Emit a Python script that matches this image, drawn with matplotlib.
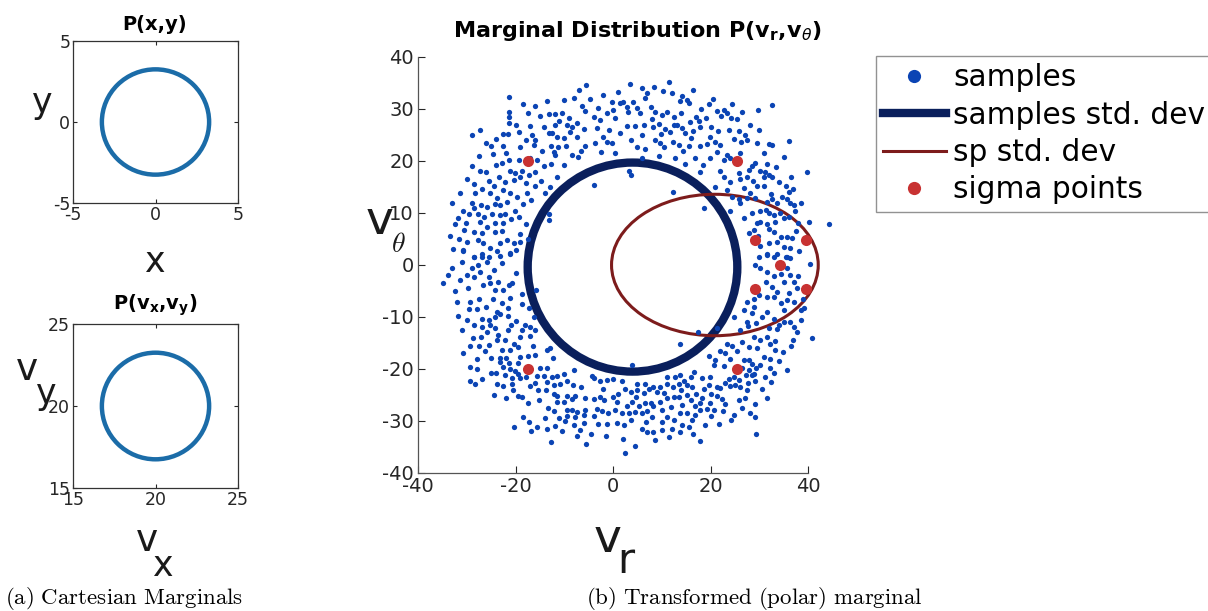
import numpy as np
import matplotlib.pyplot as plt
from matplotlib.patches import Ellipse
from matplotlib.lines import Line2D

plt.rcParams['axes.unicode_minus'] = False

# ---- data ----
# (v_r, v_theta) samples
sample_points = [
    (-5.6, 34.7), (-21.3, 32.4), (-6.9, 33.7), (-7.9, 32.1), (-2.1, 32.7), (-4.8, 31.9), (-0.2, 31.4),
    (1.5, 31.1), (-21.4, 29.5), (-17.5, 29.3), (-15.0, 28.7), (-13.2, 29.0), (-11.9, 29.0),
    (-10.5, 29.3), (-9.0, 28.2), (-11.0, 27.6), (-9.5, 26.9), (-8.4, 26.5), (-7.4, 27.3), (-5.7, 29.7),
    (-4.0, 28.5), (-2.6, 27.9), (-1.2, 29.2), (0.1, 29.8), (0.5, 28.2), (-21.4, 28.4), (-21.4, 27.4),
    (-27.3, 26.0), (-29.0, 25.0), (-22.6, 25.1), (-21.6, 25.1), (-19.2, 25.5), (-17.9, 24.0),
    (-16.6, 25.0), (-15.9, 24.0), (-13.2, 25.3), (-12.5, 25.3), (-11.4, 24.6), (-10.1, 24.4),
    (-8.8, 25.6), (-7.4, 24.7), (-5.7, 22.9), (-3.6, 23.4), (-2.1, 24.7), (-1.2, 23.7), (-0.2, 23.4),
    (1.4, 25.3), (-25.1, 22.9), (-24.7, 21.3), (-22.5, 22.9), (-21.9, 21.5), (-16.3, 23.1),
    (-12.7, 22.9), (-12.2, 21.8), (-11.2, 22.7), (-11.9, 21.2), (-8.4, 21.2), (-7.1, 20.7),
    (-19.2, 20.2), (-15.6, 20.1), (-14.2, 19.0), (-22.8, 19.6), (-21.4, 20.2), (-29.0, 19.0),
    (-20.1, 17.7), (-18.7, 18.0), (-17.3, 17.3), (-15.9, 17.8), (-27.3, 18.1), (-21.1, 18.1),
    (-23.3, 16.9), (-22.1, 16.0), (-20.4, 16.3), (-19.0, 16.9), (-17.8, 15.7), (-16.1, 15.1),
    (-11.5, 17.0), (-4.0, 15.4), (-25.5, 16.2), (-24.4, 15.1), (-31.4, 13.9), (-28.3, 13.8),
    (-25.2, 13.8), (-22.5, 14.4), (-21.1, 13.8), (-19.7, 13.1), (-17.7, 13.8), (-13.9, 13.8),
    (-23.8, 12.8), (-21.8, 12.2), (-25.9, 11.2), (-23.1, 11.5), (-20.1, 10.3), (-30.7, 10.4),
    (-29.6, 9.9), (-27.6, 9.8), (-26.4, 9.3), (-24.9, 9.9), (-23.1, 9.6), (-22.1, 9.9), (-32.4, 7.9),
    (-30.1, 8.1), (-27.3, 8.3), (-25.9, 7.4), (-24.2, 8.0), (-22.5, 8.1), (-30.5, 6.7), (-28.6, 6.4),
    (-26.9, 6.1), (-24.2, 6.4), (-19.0, 5.9), (-13.2, 9.9), (-13.2, 8.7), (-30.0, 4.5), (-27.6, 4.8),
    (-26.6, 4.2), (-25.2, 3.2), (-23.1, 4.2), (-21.8, 4.9), (-20.4, 4.3), (-19.0, 4.5), (-30.7, 2.8),
    (-28.6, 1.6), (-21.1, 2.4), (-26.9, 2.2), (-25.5, 1.6),
    (-18.5, 31.0), (-16.0, 30.5), (-13.5, 31.5), (-10.0, 31.8), (-3.0, 30.2), (-6.3, 30.6),
    (-19.8, 27.0), (-17.0, 26.8), (-14.2, 26.5), (-12.0, 27.0), (-6.0, 26.2), (-3.2, 26.3),
    (-0.8, 26.0), (-24.0, 24.2), (-26.0, 23.5), (-19.0, 22.6), (-14.5, 22.0), (-9.6, 22.8),
    (-6.5, 22.0), (-2.5, 21.8), (0.5, 21.5), (-27.5, 21.0), (-24.0, 19.2), (-17.0, 20.5),
    (-12.8, 19.5), (-10.0, 19.2), (-26.0, 17.8), (-30.0, 16.5), (-28.5, 15.5), (-14.8, 16.2),
    (-13.0, 15.0), (-26.8, 14.6), (-33.0, 12.0), (-29.0, 12.0), (-27.0, 11.5), (-24.2, 11.8),
    (-18.5, 11.8), (-16.8, 12.5), (-31.8, 9.0), (-28.5, 10.9), (-21.0, 8.8), (-19.2, 9.2),
    (-17.8, 7.8), (-33.5, 5.5), (-31.5, 5.0), (-22.8, 6.5), (-17.5, 5.0), (-32.8, 3.0),
    (-23.8, 2.7), (-19.8, 2.9),
    # upper right
    (3.4, 34.9), (11.4, 35.1), (5.9, 34.0), (7.0, 33.1), (10.3, 33.5), (12.1, 33.1), (14.2, 32.5),
    (2.0, 31.4), (4.1, 31.4), (2.9, 30.4), (4.9, 30.1), (5.6, 29.2), (6.6, 32.1), (13.8, 31.6),
    (15.2, 31.7), (15.5, 31.2), (19.6, 31.0), (32.6, 30.8), (29.7, 29.8), (3.0, 29.5), (7.7, 30.4),
    (8.7, 29.5), (10.1, 28.8), (11.1, 29.5), (12.5, 28.4), (14.0, 29.2), (17.1, 28.4), (17.6, 27.6),
    (20.0, 26.6), (21.4, 29.7), (22.7, 29.9), (23.3, 29.3), (24.3, 28.2), (25.5, 28.0), (22.2, 28.7),
    (2.9, 26.7), (4.6, 26.7), (6.3, 26.9), (8.3, 26.5), (9.4, 27.2), (10.7, 26.1), (11.6, 25.6),
    (13.1, 26.9), (14.2, 26.3), (14.8, 25.4), (16.0, 24.4), (17.9, 26.5), (19.8, 24.7), (21.0, 23.7),
    (22.0, 23.1), (23.7, 26.0), (25.8, 25.8), (27.0, 25.0), (27.4, 24.0), (26.3, 23.7), (3.6, 24.0),
    (4.9, 22.6), (6.6, 22.4), (8.7, 24.0), (9.6, 23.4), (10.5, 22.6), (12.3, 23.7), (13.5, 23.1),
    (14.4, 22.0), (15.5, 22.8), (17.9, 22.9), (19.2, 23.3), (19.8, 20.5), (21.4, 21.8), (23.4, 21.2),
    (22.7, 20.1), (24.1, 20.5), (16.9, 20.5), (32.0, 23.3), (32.6, 23.1), (36.1, 23.9), (35.0, 20.7),
    (31.6, 19.4), (29.2, 19.7), (28.5, 19.0), (27.9, 18.3), (3.6, 17.3), (3.2, 18.1), (17.8, 17.8),
    (22.0, 18.0), (22.7, 16.9), (25.8, 17.6), (26.1, 16.5), (27.4, 17.0), (31.1, 17.9), (32.0, 17.3),
    (32.6, 16.9), (30.9, 16.9), (29.6, 15.1), (30.9, 15.1), (35.4, 15.1), (37.0, 14.6), (39.8, 17.9),
    (12.3, 14.1), (18.6, 10.9), (23.4, 14.4), (24.4, 13.1), (25.8, 12.6), (26.1, 11.9), (27.4, 12.8),
    (28.2, 13.8), (29.2, 12.8), (32.4, 13.7), (32.6, 12.6), (33.7, 11.9), (34.7, 13.1), (35.7, 12.6),
    (36.4, 11.9), (37.1, 11.5), (37.4, 10.3), (24.1, 10.3), (30.2, 10.4), (31.3, 10.6), (32.0, 10.0),
    (33.0, 9.6), (34.2, 10.0), (35.0, 9.0), (36.1, 9.3), (40.2, 8.3), (44.3, 7.9), (29.6, 8.1),
    (30.2, 8.3), (31.6, 7.9), (33.3, 8.3), (27.9, 6.1), (28.9, 6.7), (32.0, 6.9), (33.0, 6.4),
    (34.4, 5.4), (35.6, 5.4), (36.7, 5.1), (33.7, 4.5), (32.0, 4.2), (30.2, 3.7), (35.0, 3.4),
    (31.6, 2.2), (33.0, 1.6), (35.7, 1.6),
    (8.5, 34.2), (1.0, 33.2), (16.5, 33.6), (18.0, 30.0), (20.5, 32.0), (24.5, 31.0), (26.5, 29.5),
    (28.0, 27.0), (30.0, 26.0), (8.0, 28.0), (12.5, 27.0), (15.8, 27.5), (19.0, 28.2), (6.0, 25.0),
    (9.8, 25.2), (16.5, 25.8), (21.5, 25.8), (24.8, 24.2), (29.5, 23.5), (31.0, 21.5), (6.0, 20.5),
    (9.5, 21.0), (12.8, 20.5), (14.8, 19.5), (18.5, 19.2), (26.0, 21.5), (30.2, 18.0), (33.5, 18.8),
    (24.0, 16.0), (28.8, 16.2), (34.0, 16.0), (36.5, 17.0), (21.0, 15.0), (26.8, 14.8), (31.5, 12.2),
    (36.0, 14.0), (38.5, 12.0), (28.5, 10.0), (26.8, 9.0), (38.0, 8.0), (37.5, 6.5), (29.8, 5.5),
    (36.3, 3.3), (38.2, 2.6), (30.0, 1.5),
    # lower left
    (-30.7, 2.6), (-28.6, 1.6), (-26.9, 1.6), (-23.1, 1.7), (-21.1, 2.2), (-31.0, 0.6), (-27.6, 0.0),
    (-25.9, 0.6), (-22.8, 0.3), (-33.9, -1.9), (-34.8, -3.5), (-31.4, -2.9), (-30.0, -1.9),
    (-28.6, -2.3), (-27.3, -1.3), (-25.5, -2.3), (-26.6, -3.8), (-25.2, -3.5), (-23.5, -3.2),
    (-21.4, -3.9), (-20.7, -3.5), (-22.5, -4.8), (-24.2, -4.8), (-15.8, -4.8), (-29.3, -7.1),
    (-27.4, -6.6), (-24.7, -6.6), (-22.8, -7.4), (-21.1, -6.4), (-18.7, -7.5), (-17.3, -8.3),
    (-29.6, -8.5), (-23.8, -9.0), (-23.1, -9.4), (-31.8, -9.9), (-26.9, -10.3), (-25.5, -10.5),
    (-21.6, -9.9), (-28.6, -11.5), (-26.9, -11.9), (-25.2, -11.5), (-24.2, -12.2), (-18.7, -12.5),
    (-17.0, -12.0), (-18.0, -11.5), (-15.9, -12.5), (-25.9, -12.8), (-23.5, -13.5), (-21.6, -12.5),
    (-17.0, -13.7), (-28.8, -14.1), (-23.8, -14.4), (-22.1, -14.4), (-29.3, -15.6), (-27.4, -15.6),
    (-25.5, -15.4), (-20.4, -15.1), (-19.4, -15.8), (-22.8, -16.3), (-21.1, -16.3), (-26.2, -16.5),
    (-13.6, -16.3), (-12.9, -16.0), (-27.8, -18.1), (-23.1, -17.8), (-21.9, -17.8), (-23.1, -18.6),
    (-21.4, -18.9), (-19.0, -17.6), (-17.5, -17.5), (-15.9, -17.3), (-19.4, -18.9), (-12.3, -17.8),
    (-29.3, -19.6), (-22.5, -19.6), (-20.1, -20.3), (-14.9, -19.9), (-13.6, -19.9), (-25.1, -20.7),
    (-19.4, -21.0), (-22.1, -21.2), (-20.7, -21.8), (-19.0, -21.8), (-15.6, -21.4), (-14.2, -21.4),
    (-12.5, -21.5), (-11.5, -21.4), (-10.1, -21.0), (-8.1, -20.1), (-29.4, -22.4), (-28.3, -22.9),
    (-23.7, -22.9), (-22.5, -23.3), (-20.7, -22.8), (-17.0, -23.3), (-15.9, -22.6), (-15.3, -24.0),
    (-13.7, -24.0), (-12.2, -23.1), (-10.8, -22.8), (-9.5, -22.4), (-8.2, -23.1), (-4.3, -21.4),
    (-4.0, -21.8), (-2.6, -22.4), (-1.2, -22.1), (0.1, -22.0), (-19.4, -25.2), (-18.7, -25.3),
    (-12.2, -24.8), (-11.5, -25.2), (-9.5, -25.2), (-11.5, -26.3), (-10.1, -26.3), (-7.7, -25.2),
    (-5.7, -25.6), (-4.0, -25.8), (-2.6, -25.3), (-1.9, -26.0), (0.1, -25.3), (0.8, -26.3),
    (-12.2, -28.0), (-9.5, -27.9), (-8.4, -27.8), (-7.4, -28.2), (-5.7, -27.8), (-3.3, -27.6),
    (-2.3, -28.0), (-1.0, -28.5), (0.5, -27.9), (-9.5, -29.0), (-7.7, -29.2), (-6.0, -28.9),
    (-4.0, -29.0), (-9.8, -30.0), (-8.1, -30.8), (-6.0, -30.3), (-3.0, -30.5), (-1.2, -30.6),
    (0.8, -30.3), (-18.5, -29.3), (-17.3, -30.1), (-15.6, -31.1), (-20.3, -31.2), (-16.8, -31.9),
    (-13.6, -31.6), (-7.4, -32.9), (-12.7, -34.0),
    (-33.0, -0.5), (-32.5, -5.0), (-29.8, -4.5), (-27.8, -8.5), (-31.0, -12.5), (-30.0, -10.5),
    (-26.0, -8.0), (-21.5, -8.3), (-19.8, -10.8), (-24.3, -10.0), (-27.0, -13.8), (-30.8, -17.0),
    (-25.0, -17.8), (-28.0, -20.0), (-24.0, -20.8), (-26.8, -22.0), (-21.2, -20.0), (-17.6, -19.9),
    (-17.8, -21.5), (-24.5, -25.0), (-22.0, -25.5), (-20.5, -24.0), (-17.5, -26.5), (-15.2, -26.0),
    (-13.3, -27.5), (-14.0, -29.5), (-11.0, -29.5), (-10.5, -32.0), (-12.0, -31.0), (-6.8, -31.8),
    (-4.5, -32.5), (-1.5, -32.8), (-5.5, -34.5), (-2.0, -23.8), (-6.5, -23.5), (-8.5, -25.8),
    (-13.5, -22.5), (-16.5, -15.5), (-19.0, -13.8), (-21.0, -11.5), (-29.0, -0.5), (-24.5, -1.0),
    (-20.0, -1.5), (-18.6, -5.5), (-32.0, -7.2), (-16.2, -10.0),
    # lower right
    (31.6, 1.9), (33.7, 2.2), (35.4, 1.6), (36.4, 1.3), (29.2, 0.0), (30.2, -0.6), (31.6, -1.3),
    (33.0, -2.2), (34.5, -1.7), (35.7, -0.6), (36.4, -1.9), (37.1, -3.2), (40.5, 0.2), (31.3, -3.2),
    (32.6, -4.2), (33.7, -5.1), (35.0, -3.2), (36.1, -5.3), (37.8, -4.5), (29.9, -5.8), (31.6, -6.1),
    (33.0, -6.2), (34.4, -7.4), (35.7, -6.7), (37.1, -7.1), (38.5, -8.7), (39.1, -8.3), (27.4, -7.1),
    (28.9, -8.0), (26.8, -8.7), (28.5, -9.3), (30.6, -10.0), (31.6, -9.0), (33.1, -10.3), (35.0, -8.7),
    (36.4, -10.9), (37.1, -11.9), (37.8, -12.8), (24.8, -10.0), (27.4, -10.9), (27.6, -11.7),
    (29.4, -11.1), (32.0, -12.2), (33.7, -12.4), (35.0, -10.9), (40.9, -14.1), (37.0, -14.4),
    (17.4, -12.8), (21.3, -12.2), (13.7, -15.2), (28.9, -13.8), (30.2, -14.4), (31.6, -13.9),
    (32.3, -15.1), (33.3, -14.6), (34.9, -16.7), (33.3, -16.4), (23.4, -15.2), (24.4, -15.6),
    (22.0, -16.5), (25.5, -16.5), (26.5, -14.8), (27.9, -15.7), (29.6, -16.0), (30.9, -17.6),
    (32.3, -18.0), (19.6, -17.5), (21.0, -18.3), (22.7, -19.4), (20.7, -19.2), (26.8, -18.3),
    (27.9, -18.3), (28.5, -19.0), (29.4, -19.9), (30.2, -19.2), (27.9, -20.2), (28.9, -21.0),
    (27.2, -21.2), (33.0, -20.7), (35.7, -20.1), (32.3, -19.9), (24.8, -21.5), (23.7, -22.0),
    (25.8, -22.1), (25.1, -23.1), (26.1, -23.4), (24.1, -23.3), (27.7, -22.6), (28.5, -21.2),
    (29.2, -22.4), (31.6, -25.6), (27.5, -24.0), (29.2, -26.7), (28.2, -28.5), (29.2, -29.2),
    (24.8, -28.9), (25.8, -26.0), (24.3, -29.8), (29.4, -32.5), (22.0, -23.7), (21.3, -25.2),
    (22.4, -25.8), (19.6, -23.1), (18.6, -23.9), (18.3, -25.6), (19.8, -26.6), (19.2, -27.6),
    (20.7, -27.9), (20.0, -29.0), (17.9, -26.6), (16.9, -27.1), (17.8, -27.9), (16.9, -28.9),
    (17.8, -33.8), (15.9, -21.6), (16.2, -23.4), (15.2, -23.1), (14.5, -22.4), (15.1, -25.0),
    (13.5, -25.3), (14.2, -27.0), (13.8, -28.5), (15.2, -28.5), (16.2, -29.8), (15.5, -31.1),
    (14.2, -30.8), (12.5, -29.8), (11.1, -29.2), (10.1, -30.1), (11.8, -27.3), (12.5, -25.3),
    (11.1, -25.6), (9.7, -26.3), (10.4, -24.7), (12.3, -23.4), (13.5, -22.8), (9.7, -23.4),
    (8.3, -23.4), (7.3, -23.9), (6.3, -24.7), (4.8, -25.3), (3.6, -24.4), (2.5, -23.9), (4.9, -22.8),
    (6.6, -22.8), (8.3, -27.2), (7.7, -26.6), (6.6, -26.6), (5.3, -27.2), (3.9, -26.3), (2.9, -27.2),
    (1.8, -28.5), (3.2, -28.5), (4.6, -28.2), (5.9, -28.5), (8.0, -29.2), (6.8, -30.1), (3.6, -29.9),
    (2.2, -30.8), (8.3, -32.1), (7.0, -32.2), (10.1, -31.7), (13.8, -32.2), (8.7, -33.7), (2.5, -36.2),
    (11.1, -21.5), (12.8, -21.5), (13.8, -21.2), (16.6, -20.5), (18.3, -21.8), (19.8, -21.6),
    (22.9, -22.6), (21.4, -23.4), (1.8, -22.4), (3.9, -19.2),
    (2.0, -33.5), (4.5, -34.8), (6.0, -31.5), (11.5, -33.0), (12.0, -31.5), (16.5, -32.5),
    (18.8, -30.8), (21.8, -30.5), (22.5, -28.0), (23.0, -26.8), (26.5, -27.5), (27.0, -25.5),
    (30.5, -23.8), (32.5, -22.5), (34.0, -18.5), (31.2, -21.5), (26.5, -19.8), (24.0, -18.0),
    (23.0, -17.0), (36.5, -15.5), (38.5, -10.5), (39.0, -6.5), (38.0, -2.2), (34.0, -11.5),
    (29.0, -6.5), (26.0, -12.5), (16.0, -26.0), (10.0, -27.8), (7.0, -28.0), (5.0, -24.0),
    (1.0, -24.8), (9.0, -24.5), (14.0, -24.0), (17.0, -24.8), (20.0, -24.8), (11.0, -22.8),
]
sigma_vr = [-17.45, 25.46, 29.2, 39.5, 34.2, 29.2, 39.5, -17.45, 25.46]
sigma_vth = [20.06, 20.06, 4.8, 4.8, 0.0, -4.7, -4.7, -20.06, -20.06]

# std. dev ellipses: centre, full width, full height
samples_std = dict(center=(4.0, -0.4), width=43.0, height=40.2)
sp_std = dict(center=(20.9, 0.0), width=42.4, height=27.2)

# cartesian marginals: centre and radius of the 1-sigma circles
xy_center, xy_radius = (0.0, 0.0), 3.25
vxy_center, vxy_radius = (20.0, 20.0), 3.25

c_samples = '#0b44b4'
c_navy = '#0a1f5c'
c_sp = '#7d1c1c'
c_sigma = '#c83232'
c_circ = '#1b6ca8'
c_tick = '#262626'

W, H = 1208, 611
fig = plt.figure(figsize=(W / 100, H / 100), dpi=100)


def fx(px):
    return px / W


def fy(py):
    return 1 - py / H


def small_axes(rect, center, radius, lim, ticks, title, title_y):
    a = fig.add_axes(rect)
    a.add_patch(Ellipse(center, 2 * radius, 2 * radius, fill=False,
                        ec=c_circ, lw=3.2))
    a.set_xlim(lim)
    a.set_ylim(lim)
    a.set_xticks(ticks)
    a.set_yticks(ticks)
    a.tick_params(direction='in', top=True, right=True, length=3,
                  labelsize=12.5, colors=c_tick, pad=2)
    for s in a.spines.values():
        s.set_color('#333333')
        s.set_linewidth(0.9)
    fig.text(fx(155), fy(title_y), title, fontsize=14, fontweight='bold',
             ha='center', va='center')
    return a


ax1 = small_axes([fx(73), fy(203), 165 / W, 162 / H], xy_center, xy_radius,
                 (-5, 5), [-5, 0, 5], 'P(x,y)', 25)
ax2 = small_axes([fx(73), fy(488), 165 / W, 164 / H], vxy_center, vxy_radius,
                 (15, 25), [15, 20, 25], r'P(v$_\mathbf{x}$,v$_\mathbf{y}$)', 305)

fig.text(fx(155), fy(262), 'x', fontsize=25, ha='center', va='center', color='#1a1a1a')
fig.text(fx(42), fy(103), 'y', fontsize=25, ha='center', va='center', color='#1a1a1a')
fig.text(fx(147), fy(541), 'v', fontsize=27, ha='center', va='center', color='#1a1a1a')
fig.text(fx(163), fy(566), 'x', fontsize=25, ha='center', va='center', color='#1a1a1a')
fig.text(fx(27), fy(370), 'v', fontsize=27, ha='center', va='center', color='#1a1a1a')
fig.text(fx(46), fy(394), 'y', fontsize=25, ha='center', va='center', color='#1a1a1a')

# main axes
ax = fig.add_axes([fx(418), fy(473), 390 / W, 416 / H])
pts = np.array(sample_points)
ax.plot(pts[:, 0], pts[:, 1], 'o', ms=3.8, mew=0, color=c_samples, clip_on=False)
ax.add_patch(Ellipse(samples_std['center'], samples_std['width'], samples_std['height'],
                     fill=False, ec=c_navy, lw=6, clip_on=False))
ax.add_patch(Ellipse(sp_std['center'], sp_std['width'], sp_std['height'],
                     fill=False, ec=c_sp, lw=2.2, clip_on=False))
ax.plot(sigma_vr, sigma_vth, 'o', ms=8, mew=0, color=c_sigma, clip_on=False)

ax.set_xlim(-40, 40)
ax.set_ylim(-40, 40)
ax.set_xticks([-40, -20, 0, 20, 40])
ax.set_yticks(np.arange(-40, 41, 10))
ax.tick_params(direction='in', length=5, labelsize=14, colors=c_tick, pad=3)
for side in ['top', 'right']:
    ax.spines[side].set_visible(False)
for side in ['left', 'bottom']:
    ax.spines[side].set_color('#555555')
    ax.spines[side].set_linewidth(0.9)
fig.text(fx(637), fy(31), r'Marginal Distribution P(v$_\mathbf{r}$,v$_\theta$)', fontsize=16,
         fontweight='bold', ha='center', va='center')

fig.text(fx(608), fy(539), 'v', fontsize=34, ha='center', va='center', color='#1a1a1a')
fig.text(fx(626), fy(561), 'r', fontsize=30, ha='center', va='center', color='#1a1a1a')
fig.text(fx(380), fy(222), 'v', fontsize=34, ha='center', va='center', color='#1a1a1a')
fig.text(fx(398), fy(244), r'$\theta$', fontsize=20, ha='center', va='center',
         color='#1a1a1a', math_fontfamily='cm')

handles = [
    Line2D([], [], ls='none', marker='o', ms=9.5, mew=0, color=c_samples),
    Line2D([], [], color=c_navy, lw=6),
    Line2D([], [], color=c_sp, lw=2.2),
    Line2D([], [], ls='none', marker='o', ms=9.5, mew=0, color=c_sigma),
]
labels = ['samples', 'samples std. dev', 'sp std. dev', 'sigma points']
leg = fig.legend(handles, labels, loc='upper left', bbox_to_anchor=(fx(876), fy(56)),
                 bbox_transform=fig.transFigure, fontsize=21.3, frameon=True, fancybox=False,
                 handlelength=2.1, handletextpad=0.25, labelspacing=0.28, borderpad=0.25,
                 borderaxespad=0)
leg.get_frame().set_edgecolor('#777777')
leg.get_frame().set_linewidth(1.0)

# sub-figure captions
fig.text(fx(5), fy(598), r'$\mathrm{(a)\ Cartesian\ Marginals}$', fontsize=16.5,
         ha='left', va='center', math_fontfamily='cm')
fig.text(fx(586), fy(598), r'$\mathrm{(b)\ Transformed\ (polar)\ marginal}$', fontsize=16.5,
         ha='left', va='center', math_fontfamily='cm')

fig.savefig('out.png', dpi=100)
